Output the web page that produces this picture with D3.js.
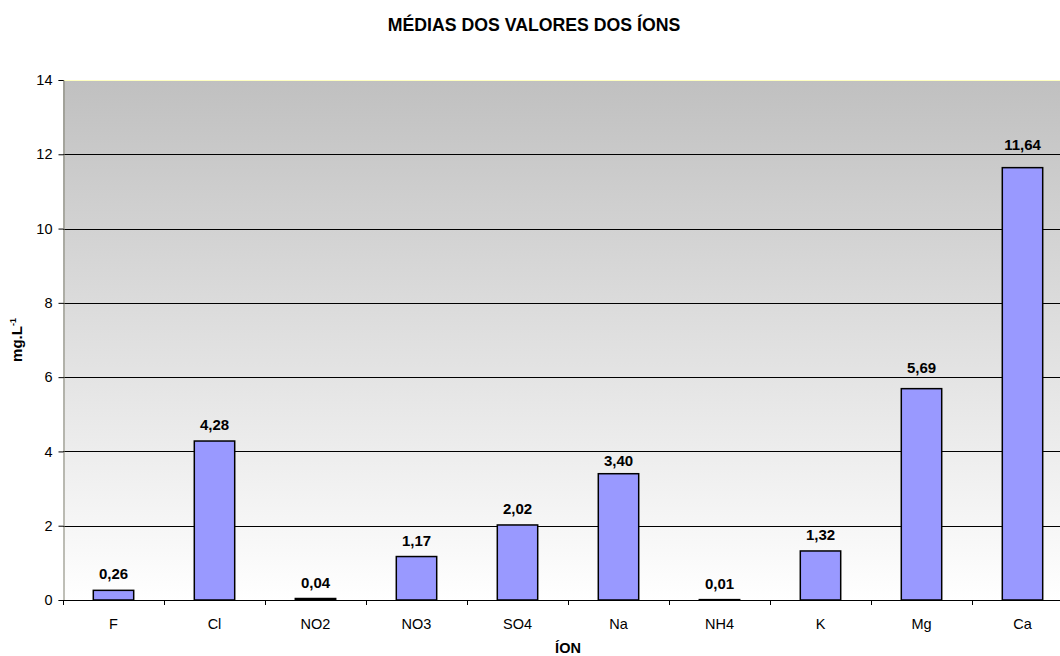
<!DOCTYPE html>
<html>
<head>
<meta charset="utf-8">
<script src="https://cdn.jsdelivr.net/npm/d3@7"></script>
<style>
  body { margin: 0; background: #fff; }
  svg { display: block; font-family: "Liberation Sans", Arial, sans-serif; }
</style>
</head>
<body>
<svg id="chart" width="1060" height="656"></svg>
<script>
// data
var ions = ["F", "Cl", "NO2", "NO3", "SO4", "Na", "NH4", "K", "Mg", "Ca"];
var means = [0.26, 4.28, 0.04, 1.17, 2.02, 3.40, 0.01, 1.32, 5.69, 11.64];
var yTicks = [0, 2, 4, 6, 8, 10, 12, 14];

var svg = d3.select("#chart");
// plot box (window.top is reserved, so use other names)
var plotL = 63, plotR = 1073, plotT = 80, plotB = 600;

var x = d3.scaleBand()
    .domain(ions)
    .range([plotL, plotR])
    .paddingInner(0.6)
    .paddingOuter(0.3);

var y = d3.scaleLinear()
    .domain([0, 14])
    .range([plotB, plotT]);

// gray-to-white plot background
var grad = svg.append("defs").append("linearGradient")
    .attr("id", "bg")
    .attr("x1", 0).attr("y1", 0).attr("x2", 0).attr("y2", 1);
grad.append("stop").attr("offset", "0%").attr("stop-color", "#c0c0c0");
grad.append("stop").attr("offset", "100%").attr("stop-color", "#ffffff");

svg.append("rect")
    .attr("x", plotL).attr("y", plotT)
    .attr("width", plotR - plotL).attr("height", plotB - plotT)
    .attr("fill", "url(#bg)");

svg.append("line")
    .attr("x1", plotL).attr("x2", plotR)
    .attr("y1", plotT + 0.5).attr("y2", plotT + 0.5)
    .attr("stroke", "#ffffc0");

// grid lines
var gridVals = yTicks.filter(function(d) { return d > 0 && d < 14; });
svg.append("g")
    .selectAll("line")
    .data(gridVals)
    .enter().append("line")
    .attr("x1", plotL).attr("x2", plotR)
    .attr("y1", function(d) { return Math.round(y(d)) + 0.5; })
    .attr("y2", function(d) { return Math.round(y(d)) + 0.5; })
    .attr("stroke", "#000")
    .attr("stroke-width", 1);

// bars
svg.append("g")
    .selectAll("rect")
    .data(means)
    .enter().append("rect")
    .attr("x", function(d, i) { return x(ions[i]); })
    .attr("y", function(d) { return y(d); })
    .attr("width", x.bandwidth())
    .attr("height", function(d) { return plotB - y(d); })
    .attr("fill", "#9999ff")
    .attr("stroke", "#000")
    .attr("stroke-width", 1.5);

// value labels sit above the bar, nudged off any grid line they would touch
function labelBase(v) {
  var base = y(v) - 11, capTop = base - 11;
  gridVals.forEach(function(g) {
    var gy = y(g);
    if (gy > capTop - 1 && gy < base + 2) {
      base = (gy - capTop < base - gy) ? gy + 15 : gy - 4;
    }
  });
  return base;
}

svg.append("g")
    .selectAll("text")
    .data(means)
    .enter().append("text")
    .attr("x", function(d, i) { return x(ions[i]) + x.bandwidth() / 2; })
    .attr("y", function(d) { return labelBase(d); })
    .attr("text-anchor", "middle")
    .attr("font-size", 15)
    .attr("font-weight", "bold")
    .text(function(d) { return d.toFixed(2).replace(".", ","); });

// y axis
var yAxis = svg.append("g")
    .attr("transform", "translate(" + (plotL + 0.5) + ",0)")
    .call(d3.axisLeft(y).tickValues(yTicks).tickSize(5).tickPadding(6));
yAxis.select(".domain").attr("stroke", "#808070");
yAxis.selectAll(".tick line").attr("stroke", "#000");
yAxis.selectAll("text")
    .attr("font-size", 14.5)
    .attr("font-family", "Liberation Sans, Arial, sans-serif");

// x axis: ticks at category boundaries
svg.append("line")
    .attr("x1", plotL).attr("x2", plotR)
    .attr("y1", plotB + 0.5).attr("y2", plotB + 0.5)
    .attr("stroke", "#000");
svg.append("g")
    .selectAll("line")
    .data(d3.range(ions.length + 1))
    .enter().append("line")
    .attr("x1", function(i) { return Math.round(plotL + i * x.step()) + 0.5; })
    .attr("x2", function(i) { return Math.round(plotL + i * x.step()) + 0.5; })
    .attr("y1", plotB).attr("y2", plotB + 5)
    .attr("stroke", "#000");
svg.append("g")
    .selectAll("text")
    .data(ions)
    .enter().append("text")
    .attr("x", function(d) { return x(d) + x.bandwidth() / 2; })
    .attr("y", 628.5)
    .attr("text-anchor", "middle")
    .attr("font-size", 14.5)
    .text(function(d) { return d; });

// titles
svg.append("text")
    .attr("x", 534).attr("y", 31)
    .attr("text-anchor", "middle")
    .attr("font-size", 17.7)
    .attr("font-weight", "bold")
    .text("MÉDIAS DOS VALORES DOS ÍONS");

svg.append("text")
    .attr("x", 568).attr("y", 652.5)
    .attr("text-anchor", "middle")
    .attr("font-size", 14.5)
    .attr("font-weight", "bold")
    .text("ÍON");

var yLabel = svg.append("text")
    .attr("transform", "translate(22,340) rotate(-90)")
    .attr("text-anchor", "middle")
    .attr("font-size", 15)
    .attr("font-weight", "bold");
yLabel.append("tspan").text("mg.L");
yLabel.append("tspan").attr("dy", -6).attr("font-size", 9).text("-1");
</script>
</body>
</html>
